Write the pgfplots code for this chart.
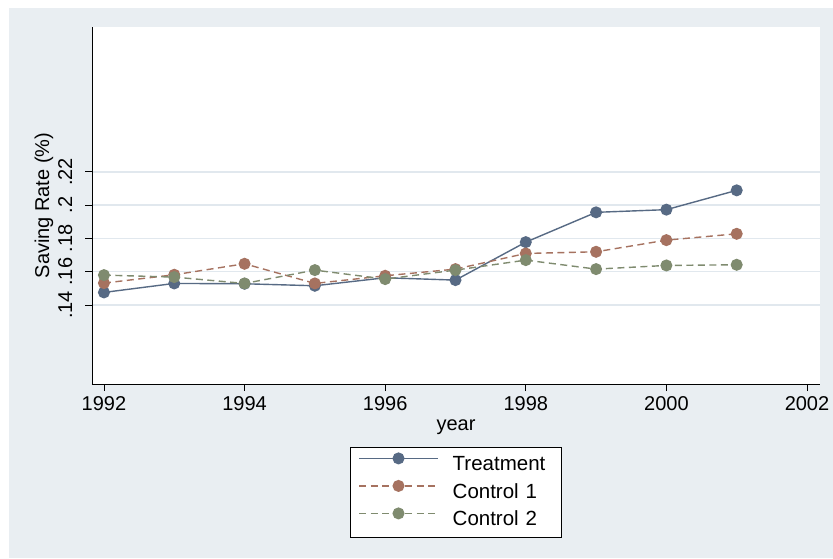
\documentclass[border=0pt]{standalone}
\usepackage{fontspec}
\setmainfont{Liberation Sans}
\usepackage{pgfplots}
\pgfplotsset{compat=1.18}

\definecolor{regionbg}{HTML}{E9EEF2}
\definecolor{gridc}{HTML}{E1E8EE}
\definecolor{treat}{HTML}{576A84}
\definecolor{ctrlA}{HTML}{A67260}
\definecolor{ctrlB}{HTML}{7F8B6F}

\begin{document}
\begin{tikzpicture}[x=1pt,y=1pt]
  % graph region
  \fill[white] (0,0) rectangle (833,558);
  \fill[regionbg] (9,0) rectangle (833,550);
  \begin{axis}[
    at={(92pt,174pt)}, anchor=south west,
    scale only axis, width=728pt, height=357pt,
    xmin=1991.83, xmax=2002.185,
    ymin=0.0926, ymax=0.307,
    axis background/.style={fill=white},
    axis x line*=bottom, axis y line*=left,
    axis line style={black, line width=0.9pt},
    tick align=outside, major tick length=7pt,
    every tick/.style={black, line width=0.9pt},
    font=\fontsize{20}{24}\selectfont,
    xtick={1992,1994,1996,1998,2000,2002},
    xticklabels={1992,1994,1996,1998,2000,2002},
    ytick={0.14,0.16,0.18,0.2,0.22},
    yticklabels={.14,.16,.18,.2,.22},
    yticklabel style={rotate=90, anchor=base},
    xticklabel style={anchor=base},
    xticklabel shift=19pt,
    yticklabel shift=13pt,
    ymajorgrids,
    grid style={gridc, line width=1.4pt},
    xlabel={year},
    xlabel style={at={(axis description cs:0.5,-0.13)}, anchor=base},
    ylabel={Saving Rate (\%)},
    ylabel style={at={(axis description cs:-0.059,0.5)}, anchor=base},
    legend style={
      at={(axis description cs:0.5,-0.1765)}, anchor=north,
      draw=black, line width=0.8pt, fill=white,
      font=\fontsize{20.5}{24}\selectfont,
      inner xsep=8pt, inner ysep=5pt,
      row sep=2.5pt, column sep=13pt,
      nodes={inner xsep=1pt, inner ysep=0pt, text height=18.5pt,
             text depth=6.5pt, text width=100pt},
    },
    legend cell align=left,
    legend image code/.code={%
      \draw[mark repeat=2, mark phase=2]
        plot coordinates {(0pt,6.5pt) (39.5pt,6.5pt) (79pt,6.5pt)};},
  ]
    \addplot[treat, line width=1.4pt, mark=*, mark size=5.3pt,
             mark options={solid, fill=treat, draw=treat}]
      coordinates {
        (1992,0.1476) (1993,0.1530) (1994,0.1528) (1995,0.1516)
        (1996,0.1564) (1997,0.1550) (1998,0.1778) (1999,0.1957)
        (2000,0.1973) (2001,0.2089)
      };
    \addlegendentry{Treatment}
    \addplot[ctrlA, line width=1.4pt, dash pattern=on 7pt off 4.5pt,
             mark=*, mark size=5.3pt,
             mark options={solid, fill=ctrlA, draw=ctrlA}]
      coordinates {
        (1992,0.1532) (1993,0.1582) (1994,0.1648) (1995,0.1530)
        (1996,0.1576) (1997,0.1616) (1998,0.1710) (1999,0.1720)
        (2000,0.1790) (2001,0.1828)
      };
    \addlegendentry{Control 1}
    \addplot[ctrlB, line width=1.4pt, dash pattern=on 7pt off 4.5pt,
             mark=*, mark size=5.3pt,
             mark options={solid, fill=ctrlB, draw=ctrlB}]
      coordinates {
        (1992,0.1580) (1993,0.1568) (1994,0.1530) (1995,0.1610)
        (1996,0.1556) (1997,0.1610) (1998,0.1670) (1999,0.1616)
        (2000,0.1638) (2001,0.1642)
      };
    \addlegendentry{Control 2}
  \end{axis}
\end{tikzpicture}
\end{document}
